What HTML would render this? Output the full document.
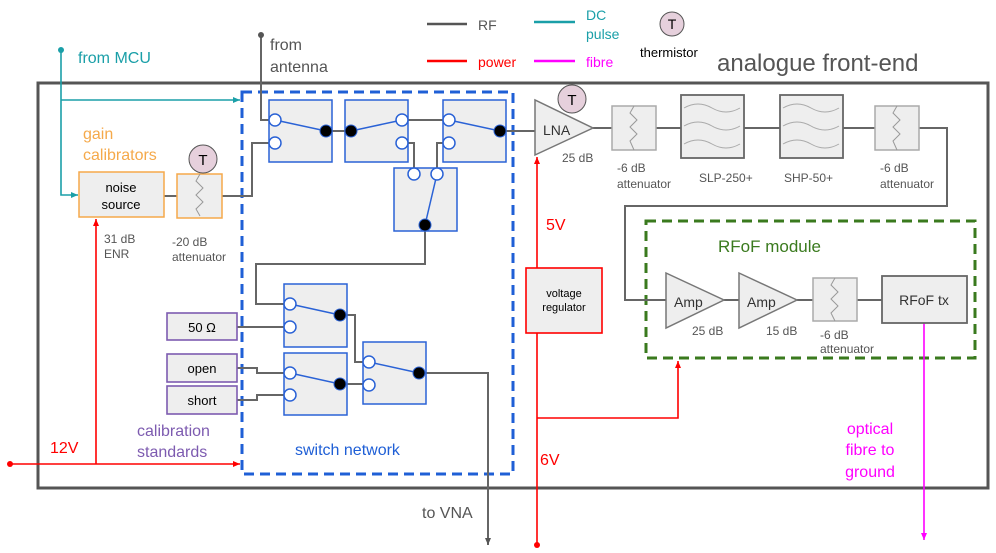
<!DOCTYPE html>
<html><head><meta charset="utf-8"><style>
body{margin:0;background:#fff}
svg{display:block;font-family:"Liberation Sans",sans-serif}
</style></head><body>
<svg width="996" height="553" viewBox="0 0 996 553" xmlns="http://www.w3.org/2000/svg">
<defs>
<marker id="ag" markerWidth="8" markerHeight="8" refX="7" refY="4" orient="auto" markerUnits="userSpaceOnUse"><path d="M0,1 L7,4 L0,7 z" fill="#555"/></marker>
<marker id="ar" markerWidth="8" markerHeight="8" refX="7" refY="4" orient="auto" markerUnits="userSpaceOnUse"><path d="M0,1 L7,4 L0,7 z" fill="#f00"/></marker>
<marker id="at" markerWidth="8" markerHeight="8" refX="7" refY="4" orient="auto" markerUnits="userSpaceOnUse"><path d="M0,1 L7,4 L0,7 z" fill="#1a9fa8"/></marker>
<marker id="am" markerWidth="8" markerHeight="8" refX="7" refY="4" orient="auto" markerUnits="userSpaceOnUse"><path d="M0,1 L7,4 L0,7 z" fill="#f0f"/></marker>
</defs>

<!-- legend -->
<g stroke-width="2.5">
<line x1="427" y1="24" x2="467" y2="24" stroke="#555"/>
<line x1="427" y1="61" x2="467" y2="61" stroke="#f00"/>
<line x1="534" y1="22" x2="575" y2="22" stroke="#1a9fa8"/>
<line x1="534" y1="61" x2="575" y2="61" stroke="#f0f"/>
</g>
<g font-size="14">
<text x="478" y="30" fill="#555">RF</text>
<text x="478" y="67" fill="#f00">power</text>
<text x="586" y="20" fill="#1a9fa8">DC</text>
<text x="586" y="39" fill="#1a9fa8">pulse</text>
<text x="586" y="67" fill="#f0f">fibre</text>
<text x="640" y="57" fill="#000" font-size="13">thermistor</text>
</g>
<circle cx="672" cy="24" r="12" fill="#e6d0dc" stroke="#555"/><text x="672" y="29" font-size="14" text-anchor="middle">T</text>
<text x="717" y="71" font-size="24" fill="#555">analogue front-end</text>

<!-- outer box -->
<rect x="38" y="83" width="950" height="405" fill="none" stroke="#555" stroke-width="3"/>

<!-- blue dashed -->
<rect x="242" y="92" width="271" height="382" fill="none" stroke="#1f5fd6" stroke-width="3" stroke-dasharray="10,6"/>
<!-- green dashed -->
<rect x="646" y="221" width="329" height="137" fill="none" stroke="#3a7a1e" stroke-width="3" stroke-dasharray="10,6"/>

<!-- RF wires -->
<g fill="none" stroke="#666" stroke-width="2">
<path d="M261,35 V120 H269"/>
<path d="M164,196 H177"/>
<path d="M222,196 H252 V143 H269"/>
<path d="M326,131 H351"/>
<path d="M402,120 H449"/>
<path d="M402,143 H414 V174"/>
<path d="M449,143 H437 V174"/>
<path d="M500,131 H535"/>
<path d="M425,225 V264 H256 V304 H284"/>
<path d="M340,315 H355 V362 H369"/>
<path d="M340,384 H369"/>
<path d="M237,327 H284"/>
<path d="M237,368 H257 V373 H284"/>
<path d="M237,400 H257 V395 H284"/>
<path d="M419,373 H488 V545" marker-end="url(#ag)"/>
<path d="M593,128 H612 M656,128 H681 M744,128 H780 M843,128 H875"/>
<path d="M919,128 H947 V206 H625 V300 H666"/>
<path d="M724,300 H739 M797,300 H813 M857,300 H882"/>
</g>
<circle cx="261" cy="35" r="3" fill="#555"/>

<!-- teal -->
<g fill="none" stroke="#1a9fa8" stroke-width="1.6">
<path d="M61,50 V195 H78" marker-end="url(#at)"/>
<path d="M61,100 H240" marker-end="url(#at)"/>
</g>
<circle cx="61" cy="50" r="3" fill="#1a9fa8"/>

<!-- red -->
<g fill="none" stroke="#f00" stroke-width="1.6">
<path d="M10,464 H240" marker-end="url(#ar)"/>
<path d="M96,464 V219" marker-end="url(#ar)"/>
<path d="M537,545 V157" marker-end="url(#ar)"/>
<path d="M537,418 H678 V361" marker-end="url(#ar)"/>
</g>
<circle cx="10" cy="464" r="3" fill="#f00"/>
<circle cx="537" cy="545" r="3" fill="#f00"/>
<rect x="526" y="268" width="76" height="65" fill="#eee" stroke="#f00" stroke-width="1.6"/>
<text x="564" y="297" font-size="11" text-anchor="middle">voltage</text>
<text x="564" y="311" font-size="11" text-anchor="middle">regulator</text>

<!-- magenta -->
<path d="M924,323 V540" stroke="#f0f" stroke-width="1.6" fill="none" marker-end="url(#am)"/>

<!-- switches -->
<g fill="#eee" stroke="#2a62d6" stroke-width="1.5">
<rect x="269" y="100" width="63" height="62"/>
<rect x="345" y="100" width="63" height="62"/>
<rect x="443" y="100" width="63" height="62"/>
<rect x="394" y="168" width="63" height="63"/>
<rect x="284" y="284" width="63" height="63"/>
<rect x="284" y="353" width="63" height="62"/>
<rect x="363" y="342" width="63" height="62"/>
</g>
<g stroke="#2a62d6" stroke-width="1.5">
<line x1="275" y1="120" x2="326" y2="131"/>
<line x1="351" y1="131" x2="402" y2="120"/>
<line x1="449" y1="120" x2="500" y2="131"/>
<line x1="437" y1="174" x2="425" y2="225"/>
<line x1="290" y1="304" x2="340" y2="315"/>
<line x1="290" y1="373" x2="340" y2="384"/>
<line x1="369" y1="362" x2="419" y2="373"/>
</g>
<g fill="#fff" stroke="#2a62d6" stroke-width="1.5">
<circle cx="275" cy="120" r="6"/><circle cx="275" cy="143" r="6"/>
<circle cx="402" cy="120" r="6"/><circle cx="402" cy="143" r="6"/>
<circle cx="449" cy="120" r="6"/><circle cx="449" cy="143" r="6"/>
<circle cx="414" cy="174" r="6"/><circle cx="437" cy="174" r="6"/>
<circle cx="290" cy="304" r="6"/><circle cx="290" cy="327" r="6"/>
<circle cx="290" cy="373" r="6"/><circle cx="290" cy="395" r="6"/>
<circle cx="369" cy="362" r="6"/><circle cx="369" cy="385" r="6"/>
</g>
<g fill="#000" stroke="#2a62d6" stroke-width="1">
<circle cx="326" cy="131" r="6"/><circle cx="351" cy="131" r="6"/>
<circle cx="500" cy="131" r="6"/><circle cx="425" cy="225" r="6"/>
<circle cx="340" cy="315" r="6"/><circle cx="340" cy="384" r="6"/>
<circle cx="419" cy="373" r="6"/>
</g>

<!-- cal standards -->
<g fill="#eee" stroke="#7d5bb0" stroke-width="1.6">
<rect x="167" y="313" width="70" height="27"/>
<rect x="167" y="354" width="70" height="28"/>
<rect x="167" y="386" width="70" height="28"/>
</g>
<g font-size="13" text-anchor="middle">
<text x="202" y="332">50 Ω</text>
<text x="202" y="373">open</text>
<text x="202" y="405">short</text>
</g>

<!-- gain calibrators -->
<rect x="79" y="172" width="85" height="45" fill="#eee" stroke="#f5a94a" stroke-width="1.5"/>
<text x="121" y="192" font-size="13" text-anchor="middle">noise</text>
<text x="121" y="209" font-size="13" text-anchor="middle">source</text>
<rect x="177" y="174" width="45" height="44" fill="#eee" stroke="#f5a94a" stroke-width="1.5"/>
<path d="M200,174 l-4,7 l7,7 l-7,7 l7,7 l-7,7 l4,7" fill="none" stroke="#999"/>
<circle cx="203" cy="159" r="14" fill="#e6d0dc" stroke="#555"/><text x="203" y="165" font-size="15" text-anchor="middle">T</text>

<!-- LNA chain -->
<path d="M535,100 L535,155 L593,128 z" fill="#eee" stroke="#777" stroke-width="1.5"/>
<text x="543" y="135" font-size="14" fill="#333">LNA</text>
<circle cx="572" cy="99" r="14" fill="#e6d0dc" stroke="#555"/><text x="572" y="105" font-size="15" text-anchor="middle">T</text>
<g fill="#eee" stroke="#aaa" stroke-width="1.5">
<rect x="612" y="106" width="44" height="44"/>
<rect x="875" y="106" width="44" height="44"/>
<rect x="813" y="278" width="44" height="43"/>
</g>
<g fill="none" stroke="#999">
<path d="M634,106 l-4,7 l7,7 l-7,7 l7,7 l-7,7 l4,9"/>
<path d="M897,106 l-4,7 l7,7 l-7,7 l7,7 l-7,7 l4,9"/>
<path d="M835,278 l-4,7 l7,7 l-7,7 l7,7 l-7,7 l4,8"/>
</g>
<g fill="#eee" stroke="#666" stroke-width="1.8">
<rect x="681" y="95" width="63" height="63"/>
<rect x="780" y="95" width="63" height="63"/>
<rect x="882" y="276" width="85" height="47"/>
</g>
<g fill="none" stroke="#aaa">
<path d="M684,108 q14,-8 28,0 t28,0 M684,126 q14,-8 28,0 t28,0 M684,144 q14,-8 28,0 t28,0"/>
<path d="M783,108 q14,-8 28,0 t28,0 M783,126 q14,-8 28,0 t28,0 M783,144 q14,-8 28,0 t28,0"/>
</g>
<path d="M666,273 L666,328 L724,300 z" fill="#eee" stroke="#777" stroke-width="1.5"/>
<path d="M739,273 L739,328 L797,300 z" fill="#eee" stroke="#777" stroke-width="1.5"/>
<text x="674" y="307" font-size="14" fill="#333">Amp</text>
<text x="747" y="307" font-size="14" fill="#333">Amp</text>
<text x="924" y="305" font-size="14" fill="#333" text-anchor="middle">RFoF tx</text>

<!-- gray labels -->
<g font-size="12" fill="#555">
<text x="562" y="162">25 dB</text>
<text x="617" y="172">-6 dB</text><text x="617" y="188">attenuator</text>
<text x="699" y="182">SLP-250+</text>
<text x="784" y="182">SHP-50+</text>
<text x="880" y="172">-6 dB</text><text x="880" y="188">attenuator</text>
<text x="692" y="335">25 dB</text>
<text x="766" y="335">15 dB</text>
<text x="820" y="339">-6 dB</text><text x="820" y="353">attenuator</text>
<text x="104" y="243">31 dB</text><text x="104" y="258">ENR</text>
<text x="172" y="246">-20 dB</text><text x="172" y="261">attenuator</text>
</g>
<g font-size="16">
<text x="78" y="63" fill="#1a9fa8">from MCU</text>
<text x="270" y="50" fill="#555">from</text>
<text x="270" y="72" fill="#555">antenna</text>
<text x="83" y="139" fill="#f5a94a">gain</text>
<text x="83" y="160" fill="#f5a94a">calibrators</text>
<text x="50" y="453" fill="#f00">12V</text>
<text x="137" y="436" fill="#7d5bb0">calibration</text>
<text x="137" y="457" fill="#7d5bb0">standards</text>
<text x="295" y="455" fill="#1f5fd6">switch network</text>
<text x="422" y="518" fill="#555">to VNA</text>
<text x="546" y="230" fill="#f00">5V</text>
<text x="540" y="465" fill="#f00">6V</text>
<text x="718" y="252" fill="#3a7a1e" font-size="17">RFoF module</text>
<text x="870" y="434" fill="#f0f" text-anchor="middle">optical</text>
<text x="870" y="455" fill="#f0f" text-anchor="middle">fibre to</text>
<text x="870" y="477" fill="#f0f" text-anchor="middle">ground</text>
</g>
</svg>
</body></html>
